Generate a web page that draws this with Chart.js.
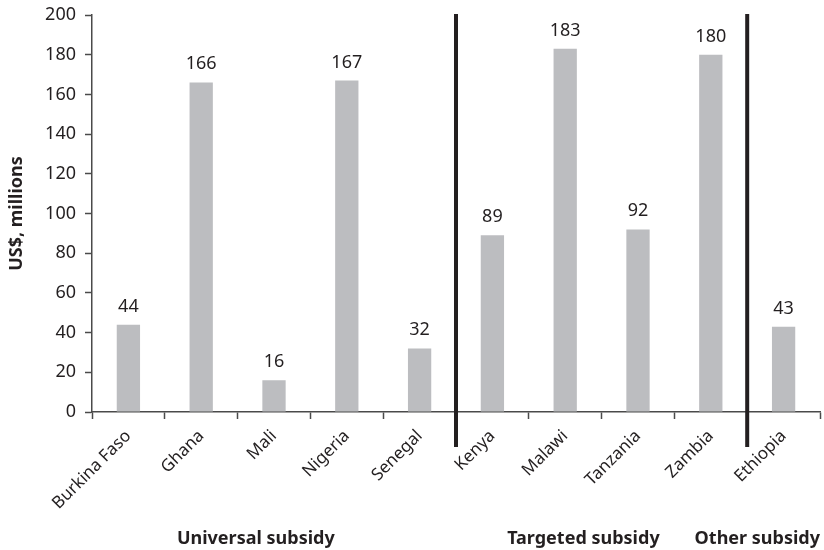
<!DOCTYPE html>
<html>
<head>
<meta charset="utf-8">
<script src="https://cdn.jsdelivr.net/npm/chart.js@4/dist/chart.umd.min.js"></script>
<style>
  html, body { margin: 0; padding: 0; background: #ffffff; }
  #wrap { width: 824px; height: 550px; }
</style>
</head>
<body>
<div id="wrap"><canvas id="c" width="824" height="550"></canvas></div>
<script>
// Fertilizer subsidy spending by country (US$, millions)
const countries = ['Burkina Faso', 'Ghana', 'Mali', 'Nigeria', 'Senegal',
                   'Kenya', 'Malawi', 'Tanzania', 'Zambia', 'Ethiopia'];
const spending = [44, 166, 16, 167, 32, 89, 183, 92, 180, 43];
const yTicks = [0, 20, 40, 60, 80, 100, 120, 140, 160, 180, 200];

// Subsidy programme groups: first and last country index of each
const groupNames = ['Universal subsidy', 'Targeted subsidy', 'Other subsidy'];
const groupFirst = [0, 5, 9];
const groupLast = [4, 8, 9];

const INK = '#231f20';
const AXIS = '#4a4a4a';
const FONT = '"Noto Sans", "Open Sans", sans-serif';

const groupPlugin = {
  id: 'groups',
  afterDatasetsDraw(chart) {
    const { ctx, chartArea, scales: { x } } = chart;
    ctx.save();
    // heavy separators between programme groups
    ctx.strokeStyle = INK;
    ctx.lineWidth = 4;
    for (let g = 1; g < groupFirst.length; g++) {
      const px = x.getPixelForValue(groupFirst[g] - 0.5);
      ctx.beginPath();
      ctx.moveTo(px, chartArea.top - 1);
      ctx.lineTo(px, chartArea.bottom + 35);
      ctx.stroke();
    }
    // value labels above bars
    ctx.fillStyle = INK;
    ctx.font = '18px ' + FONT;
    ctx.textAlign = 'center';
    ctx.textBaseline = 'alphabetic';
    const meta = chart.getDatasetMeta(0);
    meta.data.forEach((bar, i) => {
      ctx.fillText(String(spending[i]), bar.x, bar.y - 13);
    });
    // group captions below the category labels
    ctx.font = 'bold 18px ' + FONT;
    const shift = [-0.25, -0.25, 0.0];
    groupNames.forEach((name, g) => {
      const mid = (groupFirst[g] + groupLast[g]) / 2 + shift[g];
      let px = x.getPixelForValue(mid);
      if (g === groupNames.length - 1) px = Math.min(px, chart.width - 4 - ctx.measureText(name).width / 2);
      ctx.fillText(name, px, 544);
    });
    ctx.restore();
  }
};

new Chart(document.getElementById('c'), {
  type: 'bar',
  data: {
    labels: countries,
    datasets: [{
      data: spending,
      backgroundColor: '#bcbdc0',
      borderWidth: 0,
      barPercentage: 0.32,
      categoryPercentage: 1.0
    }]
  },
  options: {
    responsive: false,
    animation: false,
    devicePixelRatio: 1,
    layout: { padding: { top: 15, right: 4, left: 6, bottom: 0 } },
    plugins: { legend: { display: false }, tooltip: { enabled: false } },
    scales: {
      x: {
        grid: { display: true, drawOnChartArea: false, offset: true, tickLength: 7, tickColor: AXIS, tickWidth: 1.5 },
        border: { display: true, color: AXIS, width: 1.5 },
        ticks: {
          color: INK, font: { family: FONT, size: 17 },
          minRotation: 45, maxRotation: 45, padding: 7, autoSkip: false
        },
        afterFit(s) { s.height = 138; }
      },
      y: {
        min: 0, max: 200,
        afterBuildTicks(s) { s.ticks = yTicks.map(v => ({ value: v })); },
        grid: { display: true, drawOnChartArea: false, tickLength: 7, tickColor: AXIS, tickWidth: 1.5 },
        border: { display: true, color: AXIS, width: 1.5 },
        ticks: { color: INK, font: { family: FONT, size: 18, lineHeight: 1 }, padding: 9 },
        title: {
          display: true, text: 'US$, millions', color: INK,
          font: { family: FONT, size: 18, weight: 'bold' }, padding: 0
        },
        afterFit(s) { s.width = 86; s.paddingTop = 0; s.paddingBottom = 0; }
      }
    }
  },
  plugins: [groupPlugin]
});
</script>
</body>
</html>
